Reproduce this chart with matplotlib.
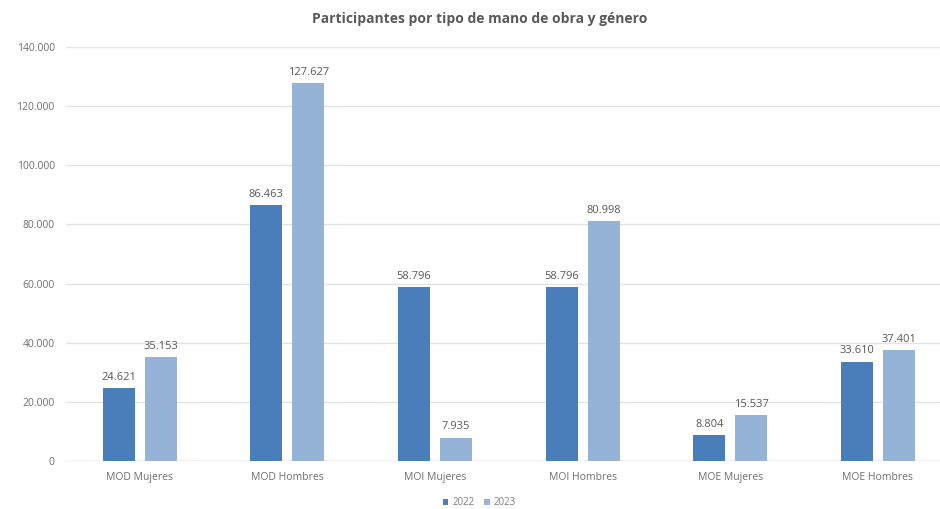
import matplotlib.pyplot as plt
import numpy as np

categorias = ["MOD Mujeres", "MOD Hombres", "MOI Mujeres", "MOI Hombres", "MOE Mujeres", "MOE Hombres"]
v2022 = [24621, 86463, 58796, 58796, 8804, 33610]
v2023 = [35153, 127627, 7935, 80998, 15537, 37401]

plt.rcParams["font.family"] = ["Open Sans", "DejaVu Sans"]

def fmt(v):
    return f"{v:,.0f}".replace(",", ".")

fig = plt.figure(figsize=(9.4, 5.09), dpi=100)
ax = fig.add_axes([0.070, 0.094, 0.93, 0.814])

x = np.arange(len(categorias))
w = 0.217
off = 0.142
b1 = ax.bar(x - off, v2022, w, color="#4a7ebb", label="2022", zorder=3)
b2 = ax.bar(x + off, v2023, w, color="#95b3d7", label="2023", zorder=3)

# etiquetas de valor sobre cada barra
for bars, vals in ((b1, v2022), (b2, v2023)):
    for b, v in zip(bars, vals):
        ax.text(b.get_x() + b.get_width() / 2, v + 1800, fmt(v), ha="center", va="bottom",
                fontsize=8, color="#595959")

ax.set_xlim(-0.5, 5.42)
ax.set_ylim(0, 140000)
ax.set_yticks(np.arange(0, 140001, 20000))
ax.set_yticklabels([fmt(t) for t in np.arange(0, 140001, 20000)], fontsize=7.5, color="#707070")
ax.set_xticks(x)
ax.set_xticklabels(categorias, fontsize=7.5, color="#707070")
ax.tick_params(length=0, pad=8)
ax.grid(axis="y", color="#e3e3e3", linewidth=1, zorder=0)
for s in ax.spines.values():
    s.set_visible(False)
ax.axhline(0, color="#d9d9d9", linewidth=1, zorder=2)

fig.text(0.51, 0.962, "Participantes por tipo de mano de obra y género", ha="center", va="center",
         fontsize=10, fontweight="bold", color="#595959")

fig.legend(handles=[b1, b2], labels=["2022", "2023"], loc="center", bbox_to_anchor=(0.51, 0.012),
           ncol=2, frameon=False, fontsize=7, labelcolor="#7f7f7f", handlelength=0.6,
           handleheight=0.6, columnspacing=1.0, handletextpad=0.4)

fig.savefig("out.png", dpi=100)
